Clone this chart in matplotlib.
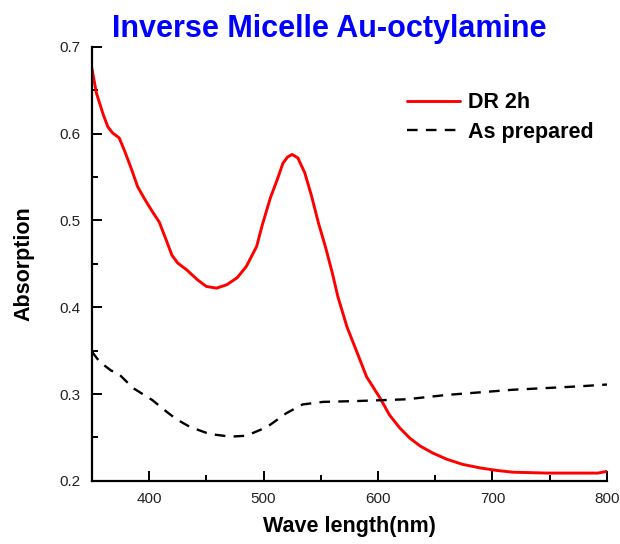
import numpy as np
import matplotlib
matplotlib.use("Agg")
import matplotlib.pyplot as plt
from matplotlib.ticker import MultipleLocator

plt.rcParams["font.family"] = ["Liberation Sans", "DejaVu Sans"]

# UV-vis spectra (wavelength in nm, absorption)
wl_dr = [350, 354, 360, 364, 368, 374, 379, 385, 390, 396, 403, 409, 414,
         420, 425, 433, 442, 450, 459, 468, 477, 485, 494, 499, 506, 512,
         517, 521, 525, 530, 536, 542, 548, 554, 560, 565, 573, 582, 590,
         602, 610, 619, 628, 637, 648, 660, 674, 689, 704, 718, 748, 777,
         792, 800]
abs_dr = [0.676, 0.647, 0.622, 0.608, 0.601, 0.595, 0.579, 0.558, 0.539,
          0.525, 0.510, 0.498, 0.481, 0.460, 0.451, 0.443, 0.432, 0.424,
          0.422, 0.426, 0.434, 0.447, 0.470, 0.495, 0.526, 0.547, 0.566,
          0.573, 0.576, 0.572, 0.555, 0.528, 0.497, 0.470, 0.440, 0.412,
          0.377, 0.347, 0.320, 0.295, 0.276, 0.261, 0.249, 0.240, 0.232,
          0.225, 0.219, 0.215, 0.212, 0.210, 0.209, 0.209, 0.209, 0.211]

wl_prep = [350, 357, 367, 373, 386, 403, 416, 424, 436, 453, 471, 485, 503,
           520, 534, 552, 582, 604, 625, 660, 689, 718, 748, 777, 800]
abs_prep = [0.349, 0.337, 0.327, 0.324, 0.307, 0.293, 0.279, 0.271, 0.262,
            0.254, 0.251, 0.252, 0.262, 0.278, 0.288, 0.291, 0.292, 0.293,
            0.294, 0.299, 0.302, 0.305, 0.307, 0.309, 0.311]

fig = plt.figure(figsize=(6.2, 5.44), dpi=100)
ax = fig.add_axes([0.148, 0.116, 0.831, 0.798])

ax.plot(wl_dr, abs_dr, color="#ff0000", lw=2.1, label="DR 2h",
        solid_joinstyle="round", solid_capstyle="round")
ax.plot(wl_prep, abs_prep, color="black", lw=1.7, dashes=(4.5, 3.5),
        dash_joinstyle="round", label="As prepared")

ax.set_xlim(350, 800)
ax.set_ylim(0.2, 0.7)
ax.xaxis.set_minor_locator(MultipleLocator(50))
ax.yaxis.set_major_locator(MultipleLocator(0.1))
ax.yaxis.set_minor_locator(MultipleLocator(0.05))
ax.set_xticks([400, 500, 600, 700, 800])

for side in ("top", "right"):
    ax.spines[side].set_visible(False)
for side in ("left", "bottom"):
    ax.spines[side].set_linewidth(1.6)

ax.tick_params(which="major", direction="in", length=7, width=1.4,
               labelsize=11, pad=8, colors="black", labelcolor="#222222")
ax.tick_params(which="minor", direction="in", length=4.5, width=1.4)

ax.set_xlabel("Wave length(nm)", fontsize=15.5, fontweight="bold", labelpad=7)
ax.set_ylabel("Absorption", fontsize=15.5, fontweight="bold", labelpad=18)

fig.text(0.531, 0.947, "Inverse Micelle Au-octylamine", color="#0000ff",
         fontsize=22, fontweight="bold", ha="center", va="center")

ax.legend(loc="upper left", bbox_to_anchor=(0.575, 0.94), frameon=False,
          handlelength=2.45, handletextpad=0.35, labelspacing=0.4,
          prop={"size": 15.5, "weight": "bold"})

fig.savefig("out.png", dpi=100)
